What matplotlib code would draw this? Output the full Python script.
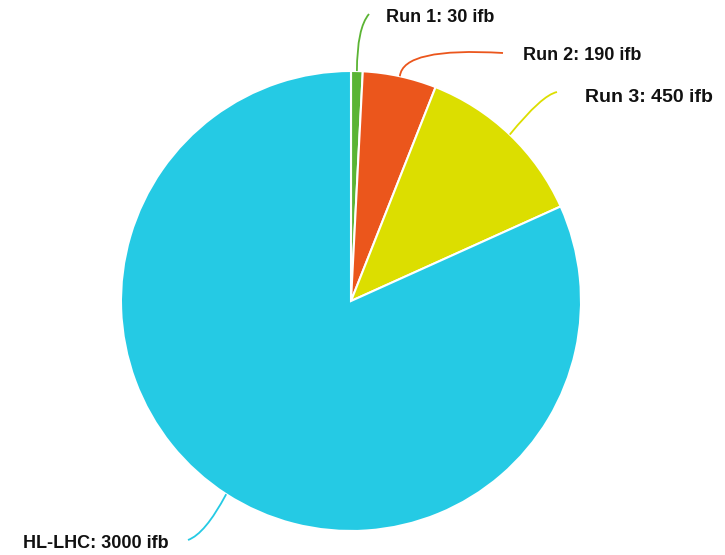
import matplotlib
matplotlib.use("Agg")
import matplotlib.pyplot as plt
import numpy as np
from matplotlib.path import Path
from matplotlib.patches import PathPatch

labels = ["Run 1", "Run 2", "Run 3", "HL-LHC"]
values = [30, 190, 450, 3000]
unit = "ifb"
colors = ["#5BB434", "#EB561C", "#DCDE00", "#25CAE4"]

W, H = 725, 555
fig = plt.figure(figsize=(W / 100, H / 100), dpi=100)
ax = fig.add_axes([0, 0, 1, 1])

cx, cy, R = 351, H - 301, 230
wedges, _ = ax.pie(values, colors=colors, startangle=90, counterclock=False,
                   center=(cx, cy), radius=R,
                   wedgeprops=dict(edgecolor="white", linewidth=1.5), frame=True)
ax.set_xlim(0, W)
ax.set_ylim(0, H)
ax.set_aspect("equal")
ax.axis("off")

# label layout: (elbow, end point, text pos, fontsize)
layout = [
    dict(mid=(357, 28), end=(369, 14), text=(386, 17), fs=13),
    dict(mid=(403, 47), end=(503, 53), text=(523, 55), fs=13),
    dict(mid=(542, 95), end=(557, 92), text=(585, 97), fs=14),
    dict(mid=(205, 534), end=(188, 540), text=(23, 543), fs=13),
]

for w, lab, val, col, lay in zip(wedges, labels, values, colors, layout):
    ang = np.deg2rad((w.theta1 + w.theta2) / 2)
    x0 = cx + R * np.cos(ang)
    y0 = cy + R * np.sin(ang)
    mx, my = lay["mid"][0], H - lay["mid"][1]
    ex, ey = lay["end"][0], H - lay["end"][1]
    path = Path([(x0, y0), (mx, my), (ex, ey)],
                [Path.MOVETO, Path.CURVE3, Path.CURVE3])
    ax.add_patch(PathPatch(path, fc="none", ec=col, lw=1.3))
    tx, ty = lay["text"][0], H - lay["text"][1]
    ax.text(tx, ty, f"{lab}: {val} {unit}", fontsize=lay["fs"], fontweight="bold",
            family="Liberation Sans", ha="left", va="center", color="#111111")

fig.savefig("out.png", dpi=100)
